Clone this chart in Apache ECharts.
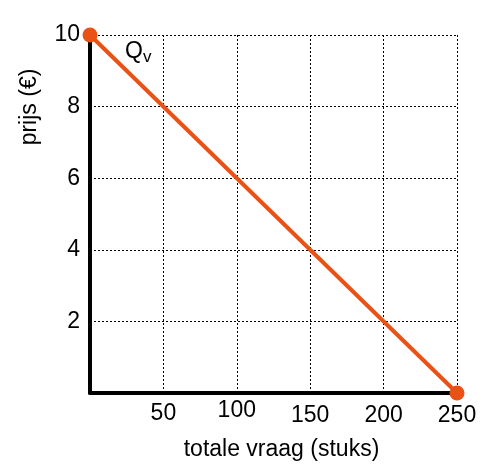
<!DOCTYPE html>
<html><head><meta charset="utf-8">
<script src="https://cdn.jsdelivr.net/npm/echarts@6/dist/echarts.min.js"></script>
<style>html,body{margin:0;padding:0;background:#fff}#c{width:496px;height:472px}</style>
</head><body><div id="c"></div>
<script>
const demandQty = [0, 250];
const demandPrice = [10, 0];
const xTicks = [50, 100, 150, 200, 250];
const yTicks = [2, 4, 6, 8, 10];
const seriesName = 'Q';
const xTitle = 'totale vraag (stuks)';
const yTitle = 'prijs (€)';

const chart = echarts.init(document.getElementById('c'), null, {renderer: 'canvas'});
const font = 'Liberation Sans, Arial, sans-serif';
const FS = 23;
const xLabelPad = {50: 9, 100: 6, 150: 11, 200: 11, 250: 11};
chart.setOption({
  animation: false,
  grid: {left: 90, right: 39, top: 35, bottom: 79, containLabel: false},
  xAxis: {
    type: 'value', min: 0, max: 250, interval: 50,
    axisLine: {show: true, onZero: false, lineStyle: {color: '#000', width: 4}},
    axisTick: {show: false},
    splitLine: {show: true, lineStyle: {color: '#000', type: [2, 2], width: 1}},
    axisLabel: {
      margin: 0, fontFamily: font, fontSize: FS, color: '#000',
      formatter: v => xTicks.includes(v) ? '{p' + v + '|' + v + '}' : '',
      rich: Object.fromEntries(xTicks.map(t => ['p' + t, {padding: [xLabelPad[t], 0, 0, 0], fontFamily: font, fontSize: FS, color: '#000'}]))
    },
    name: xTitle, nameLocation: 'middle', nameGap: 45,
    nameTextStyle: {fontFamily: font, fontSize: FS, color: '#000', padding: [0, 0, 0, 16]}
  },
  yAxis: {
    type: 'value', min: 0, max: 10, interval: 2,
    axisLine: {show: true, onZero: false, lineStyle: {color: '#000', width: 4}},
    axisTick: {show: false},
    splitLine: {show: true, lineStyle: {color: '#000', type: [2, 2], width: 1}},
    axisLabel: {
      margin: 10, fontFamily: font, fontSize: FS, color: '#000',
      formatter: v => yTicks.includes(v) ? String(v) : ''
    }
  },
  graphic: [
    {type: 'text', x: 30, y: 107, rotation: Math.PI / 2, style: {text: yTitle, font: FS + 'px ' + font, fill: '#000', align: 'center', verticalAlign: 'middle'}},
    {type: 'text', left: 125, top: 40, style: {rich: {q: {fontFamily: font, fontSize: FS, color: '#000'}, s: {fontFamily: font, fontSize: 17, color: '#000', padding: [12, 0, 0, 0]}}, text: '{q|Q}{s|v}'}}
  ],
  series: [{
    name: seriesName, type: 'line',
    data: demandQty.map((q, i) => [q, demandPrice[i]]),
    symbol: 'circle', symbolSize: 15,
    itemStyle: {color: '#EA5114'},
    lineStyle: {color: '#EA5114', width: 4},
    clip: false, z: 5
  }]
});
</script></body></html>
